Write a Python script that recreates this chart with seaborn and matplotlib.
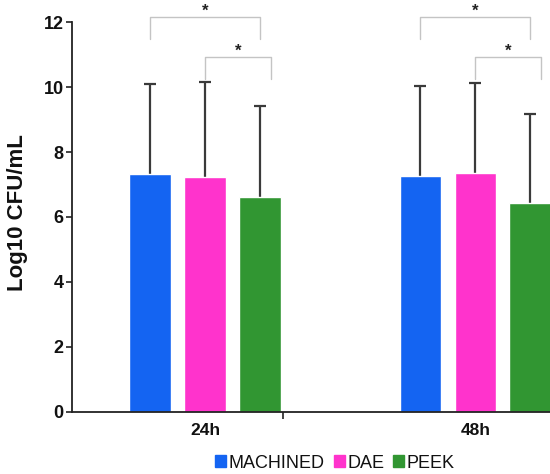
import numpy as np
import pandas as pd
import matplotlib
matplotlib.use('Agg')
import matplotlib.pyplot as plt
import seaborn as sns

# Datos
times = ['24h', '48h']
groups = ['MACHINED', 'DAE', 'PEEK']
mean_24h = [7.32, 7.23, 6.62]
mean_48h = [7.26, 7.35, 6.44]
sd_24h = [2.77, 2.92, 2.80]
sd_48h = [2.77, 2.77, 2.73]
colors = ['#1464F2', '#FF33CC', '#319632']

df = pd.DataFrame({
    'time': [t for t in times for _ in groups],
    'group': groups * len(times),
    'mean': mean_24h + mean_48h,
    'sd': sd_24h + sd_48h,
})

sns.set_style('white')
plt.rcParams['font.family'] = ['Liberation Sans', 'DejaVu Sans']

fig = plt.figure(figsize=(5.5, 4.74), dpi=100)
ax = fig.add_axes([0.131, 0.131, 0.869, 0.869])

sns.barplot(data=df, x='time', y='mean', hue='group', hue_order=groups,
            palette=colors, errorbar=None, width=0.61, gap=0.24,
            saturation=1, ax=ax, legend=False)

# barras de error (solo hacia arriba, detrás de las barras)
centers = {}
for g, cont in zip(groups, ax.containers):
    xs = [b.get_x() + b.get_width() / 2 for b in cont]
    centers[g] = xs
    for b in cont:
        b.set_zorder(3)
    sub = df[df['group'] == g]
    eb = ax.errorbar(xs, sub['mean'].values, yerr=[[0] * len(xs), sub['sd'].values],
                     fmt='none', ecolor='#3a3a3a', elinewidth=1.6, capsize=4,
                     capthick=1.6, zorder=2)
    # quitar la tapa inferior (coincide con la media)
    for cap in eb[1]:
        if np.allclose(cap.get_ydata(), sub['mean'].values):
            cap.set_visible(False)

# corchetes de significancia
def bracket(x1, x2, y_top, y_bot, star_x):
    ax.plot([x1, x1, x2, x2], [y_bot, y_top, y_top, y_bot],
            color='#c4c4c4', lw=1.0, clip_on=False)
    ax.text(star_x, y_top - 0.05, '*', ha='center', va='bottom',
            fontsize=12, fontweight='bold', color='#222222')

for i in range(len(times)):
    b, p, k = centers['MACHINED'][i], centers['DAE'][i], centers['PEEK'][i]
    bracket(b, k, 12.15, 11.48, (b + k) / 2)
    bracket(p, k + 0.04, 10.92, 10.25, (p + k + 0.04) / 2)

ax.set_xlim(-0.493, 1.276)
ax.set_ylim(0, 12.68)
ax.set_yticks([0, 2, 4, 6, 8, 10, 12])
ax.spines['left'].set_bounds(0, 12)
ax.spines['top'].set_visible(False)
ax.spines['right'].set_visible(False)
for s in ['left', 'bottom']:
    ax.spines[s].set_color('#222222')
    ax.spines[s].set_linewidth(1.3)
    ax.spines[s].set_zorder(4)

ax.tick_params(axis='y', left=True, length=4, width=1.2, color='#222222',
               labelsize=13, pad=2, labelcolor='#111111')
ax.tick_params(axis='x', bottom=True, length=0, labelsize=12.5, pad=8,
               labelcolor='#111111')
ax.set_xticks([0.289], minor=True)
ax.tick_params(axis='x', which='minor', bottom=True, length=5, width=1.2,
               color='#222222')
for lab in ax.get_xticklabels() + ax.get_yticklabels():
    lab.set_fontweight('bold')

ax.set_xlabel('')
ax.set_ylabel('Log10 CFU/mL', fontsize=16, fontweight='bold', color='#111111')
ax.yaxis.set_label_coords(-0.092, 0.483)

handles = [plt.Rectangle((0, 0), 1, 1, color=c) for c in colors]
fig.legend(handles, groups, loc='center', bbox_to_anchor=(335 / 550, 1 - 463 / 474),
           ncol=3, frameon=False, fontsize=13, handlelength=0.6, handleheight=0.6,
           handletextpad=0.15, columnspacing=0.5, labelcolor='#111111')

fig.savefig('out.png', dpi=100)
